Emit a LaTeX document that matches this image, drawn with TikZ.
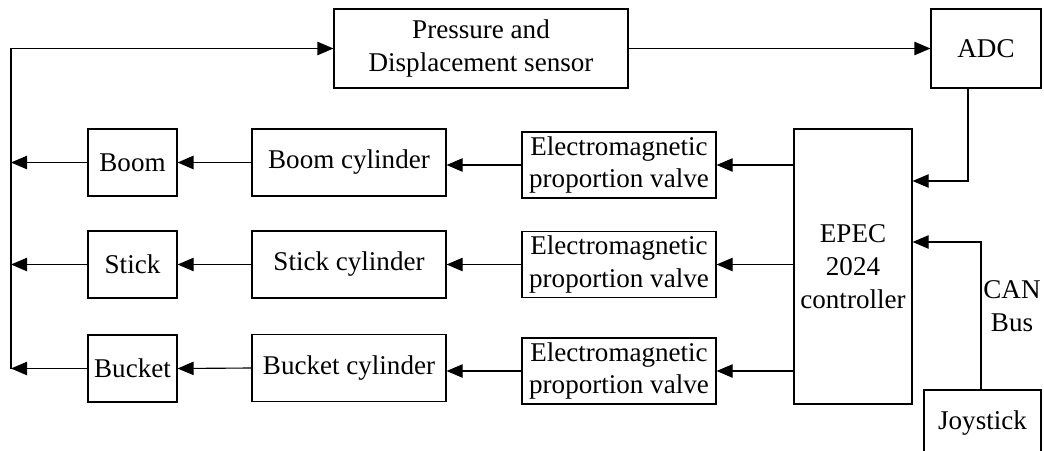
\documentclass[tikz,border=0pt]{standalone}
\usepackage{fontspec}
\setmainfont{Liberation Serif}
\usetikzlibrary{arrows.meta}
\begin{document}
\begin{tikzpicture}[x=0.75pt,y=-0.75pt,
  box/.style={draw, line width=0.85pt, inner sep=0pt, align=center,
    font=\fontsize{20.3}{24.5}\selectfont},
  arr/.style={line width=0.85pt, -{Triangle[length=12pt,width=10pt]}},
  lbl/.style={inner sep=0pt, align=center, font=\fontsize{20.3}{24.5}\selectfont}]
\clip (0,0) rectangle (1044,450);
\fill[white] (0,0) rectangle (1044,450);
% nodes
\node[box, minimum width=220.5pt, minimum height=59.25pt] (press) at (481,48.5) {Pressure and\\Displacement sensor};
\node[box, minimum width=82.5pt, minimum height=59.25pt] (adc) at (986,48.5) {ADC};
\node[box, minimum width=66.75pt, minimum height=50.25pt] (boom) at (132.5,162.5) {Boom};
\node[box, minimum width=66.75pt, minimum height=50.25pt] (stick) at (132.5,264.5) {Stick};
\node[box, minimum width=66.75pt, minimum height=50.25pt] (bucket) at (132.5,368.5) {Bucket};
\node[box, minimum width=145.5pt, minimum height=50.25pt] (boomcyl) at (349,162.5) {Boom cylinder};
\node[box, minimum width=145.5pt, minimum height=50.25pt] (stickcyl) at (349,264.5) {Stick cylinder};
\node[box, minimum width=145.5pt, minimum height=50.25pt] (bucketcyl) at (349,368) {Bucket cylinder};
\node[box, minimum width=145.5pt, minimum height=49.5pt] (valve1) at (619,165) {Electromagnetic\\proportion valve};
\node[box, minimum width=145.5pt, minimum height=49.5pt] (valve2) at (619,264.5) {Electromagnetic\\proportion valve};
\node[box, minimum width=145.5pt, minimum height=49.5pt] (valve3) at (619,371) {Electromagnetic\\proportion valve};
\node[box, minimum width=88.5pt, minimum height=206.25pt] (epec) at (853,266.5) {EPEC\\2024\\controller};
\node[box, minimum width=87.75pt, minimum height=49.5pt] (joy) at (982.5,423) {Joystick};
\node[lbl] (can) at (1012,306) {CAN\\Bus};
% connectors
\draw[arr] (bucket.west -| 11,0) |- (press.west);
\draw[arr] (press.east) -- (adc.west);
\draw[arr] (adc.south -| 968,0) |- (epec.east |- 0,181);
\draw[arr] (joy.north -| 981,0) |- (epec.east |- 0,242);
\draw[arr] (epec.west |- valve1.east) -- (valve1.east);
\draw[arr] (epec.west |- valve2.east) -- (valve2.east);
\draw[arr] (epec.west |- valve3.east) -- (valve3.east);
\draw[arr] (valve1.west) -- (valve1.west -| boomcyl.east);
\draw[arr] (valve2.west) -- (valve2.west -| stickcyl.east);
\draw[arr] (valve3.west) -- (valve3.west -| bucketcyl.east);
\draw[arr, line width=1.4pt] (boomcyl.west) -- (boom.east);
\draw[arr] (stickcyl.west) -- (stick.east);
\draw[arr] (bucketcyl.west) -- (bucket.east);
\draw[arr] (boom.west) -- (boom.west -| 11,0);
\draw[arr] (stick.west) -- (stick.west -| 11,0);
\draw[arr] (bucket.west) -- (bucket.west -| 11,0);
\end{tikzpicture}
\end{document}
